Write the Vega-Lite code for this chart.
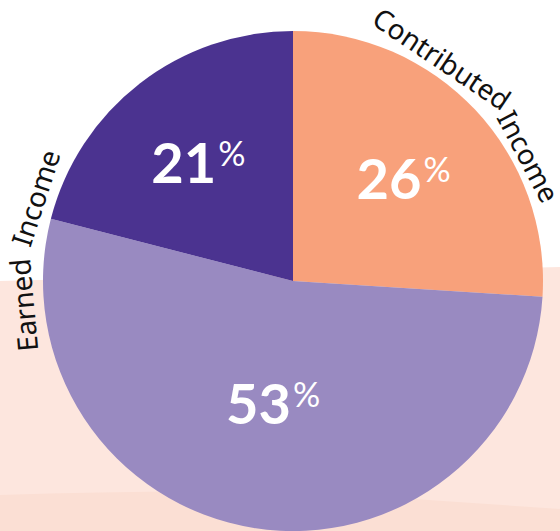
{
  "$schema": "https://vega.github.io/schema/vega-lite/v6.json",
  "width": 500,
  "height": 500,
  "autosize": {"type": "none"},
  "padding": {"left": 43, "top": 31, "right": 17, "bottom": 0},
  "background": "white",
  "config": {"view": {"stroke": null}},
  "datasets": {
    "income": [
      {"category": "Contributed Income", "share": 26},
      {"category": "Earned Income", "share": 53},
      {"category": "Other Income", "share": 21}
    ],
    "bgLight": [
      {"bx": 0, "top": 281, "bottom": 531},
      {"bx": 560, "top": 267, "bottom": 531}
    ],
    "bgDark": [
      {"bx": 0, "top": 495, "bottom": 531},
      {"bx": 100, "top": 492.5, "bottom": 531},
      {"bx": 200, "top": 491.5, "bottom": 531},
      {"bx": 300, "top": 493, "bottom": 531},
      {"bx": 414, "top": 499, "bottom": 531},
      {"bx": 480, "top": 503.5, "bottom": 531},
      {"bx": 560, "top": 509, "bottom": 531}
    ]
  },
  "layer": [
    {
      "data": {"name": "bgLight"},
      "mark": {"type": "area", "color": "#FDE6DE"},
      "encoding": {
        "x": {"field": "bx", "type": "quantitative", "scale": {"domain": [0, 560], "range": [-43, 517], "nice": false, "zero": false}, "axis": null},
        "y": {"field": "top", "type": "quantitative", "scale": {"domain": [0, 531], "range": [-31, 500], "nice": false, "zero": false}, "axis": null},
        "y2": {"field": "bottom"}
      }
    },
    {
      "data": {"name": "bgDark"},
      "mark": {"type": "area", "color": "#FBDFD4", "interpolate": "monotone"},
      "encoding": {
        "x": {"field": "bx", "type": "quantitative", "axis": null},
        "y": {"field": "top", "type": "quantitative", "axis": null},
        "y2": {"field": "bottom"}
      }
    },
    {
      "data": {"name": "income"},
      "mark": {"type": "arc"},
      "encoding": {
        "theta": {"field": "share", "type": "quantitative", "stack": true},
        "order": {"field": "category", "type": "ordinal"},
        "color": {"field": "category", "type": "nominal", "scale": {"domain": ["Contributed Income", "Earned Income", "Other Income"], "range": ["#F8A17B", "#998AC1", "#4B3390"]}, "legend": null}
      }
    },
    {
      "data": {"name": "income"},
      "mark": {"type": "text", "radius": 153, "align": "right", "baseline": "alphabetic", "dx": 17, "dy": 23, "font": "Lato", "fontWeight": "bold", "fontSize": 56, "color": "white"},
      "encoding": {
        "theta": {"field": "share", "type": "quantitative", "stack": true},
        "order": {"field": "category", "type": "ordinal"},
        "text": {"condition": {"test": "datum.category !== 'Earned Income'", "field": "share", "type": "quantitative"}, "value": ""}
      }
    },
    {
      "data": {"name": "income"},
      "mark": {"type": "text", "radius": 153, "align": "left", "baseline": "alphabetic", "dx": 19, "dy": 6, "font": "Lato", "fontSize": 34, "color": "white"},
      "encoding": {
        "theta": {"field": "share", "type": "quantitative", "stack": true},
        "order": {"field": "category", "type": "ordinal"},
        "text": {"condition": {"test": "datum.category !== 'Earned Income'", "value": "%"}, "value": ""}
      }
    },
    {
      "data": {"name": "income"},
      "mark": {"type": "text", "radius": 122, "align": "right", "baseline": "alphabetic", "dx": 17, "dy": 23, "font": "Lato", "fontWeight": "bold", "fontSize": 56, "color": "white"},
      "encoding": {
        "theta": {"field": "share", "type": "quantitative", "stack": true},
        "order": {"field": "category", "type": "ordinal"},
        "text": {"condition": {"test": "datum.category === 'Earned Income'", "field": "share", "type": "quantitative"}, "value": ""}
      }
    },
    {
      "data": {"name": "income"},
      "mark": {"type": "text", "radius": 122, "align": "left", "baseline": "alphabetic", "dx": 19, "dy": 6, "font": "Lato", "fontSize": 34, "color": "white"},
      "encoding": {
        "theta": {"field": "share", "type": "quantitative", "stack": true},
        "order": {"field": "category", "type": "ordinal"},
        "text": {"condition": {"test": "datum.category === 'Earned Income'", "value": "%"}, "value": ""}
      }
    },
    {
      "data": {"values": [{"word": "Contributed"}]},
      "mark": {"type": "text", "theta": 0.590, "radius": 265, "angle": 33.8, "align": "center", "baseline": "middle", "font": "Noto Sans", "fontSize": 28, "color": "#111111"},
      "encoding": {"text": {"field": "word"}}
    },
    {
      "data": {"values": [{"word": "Income"}]},
      "mark": {"type": "text", "theta": 1.084, "radius": 264, "angle": 62.1, "align": "center", "baseline": "middle", "font": "Noto Sans", "fontSize": 28, "color": "#111111"},
      "encoding": {"text": {"field": "word"}}
    },
    {
      "data": {"values": [{"word": "Earned"}]},
      "mark": {"type": "text", "theta": 4.623, "radius": 268, "angle": 264.9, "align": "center", "baseline": "middle", "font": "Noto Sans", "fontSize": 28, "color": "#111111"},
      "encoding": {"text": {"field": "word"}}
    },
    {
      "data": {"values": [{"word": "Income"}]},
      "mark": {"type": "text", "theta": 5.025, "radius": 268, "angle": 287.9, "align": "center", "baseline": "middle", "font": "Noto Sans", "fontSize": 28, "color": "#111111"},
      "encoding": {"text": {"field": "word"}}
    }
  ]
}
